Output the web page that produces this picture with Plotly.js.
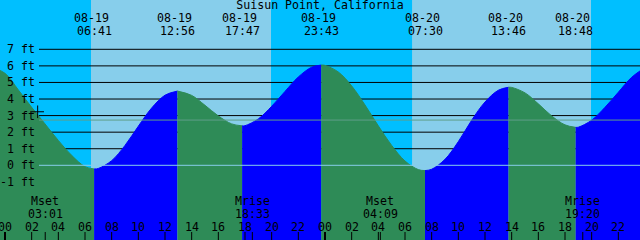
<!DOCTYPE html>
<html>
<head>
<meta charset="utf-8">
<script src="https://cdn.plot.ly/plotly-3.0.1.min.js"></script>
<style>html,body{margin:0;padding:0;background:#00BFFF;}#chart{width:640px;height:240px;}</style>
</head>
<body>
<div id="chart"></div>
<script>
// ---- data (hours from 08-19 00:00, heights in feet) ----
const tideHours = [-1.3,0,1,2,3,4,5,6,6.683,7,8,9,10,11,12,12.933,14,15,16,17,17.783,18,19,20,21,22,23,23.717,24,25,26,27,28,29,30,31,31.5,32,33,34,35,36,37,37.767,38,39,40,41,42,42.8,43,44,45,46,47,48,48.6];
const tideFeet  = [6.0,5.55,4.55,3.5,2.5,1.5,0.6,-0.08,-0.22,-0.19,0.28,1.2,2.36,3.46,4.23,4.48,4.22,3.62,2.98,2.5,2.38,2.39,2.8,3.56,4.46,5.33,5.92,6.05,6.03,5.63,4.79,3.64,2.38,1.2,0.26,-0.26,-0.32,-0.24,0.36,1.43,2.72,3.82,4.53,4.71,4.70,4.37,3.71,2.98,2.44,2.29,2.30,2.72,3.5,4.41,5.31,5.86,5.95];

const extremeHours = [-1.3,6.683,12.933,17.783,23.717,31.5,37.767,42.8,48.6];
const extremeKinds = ['high','low','high','low','high','low','high','low','high'];
const extremeDates = ['08-18','08-19','08-19','08-19','08-19','08-20','08-20','08-20','08-21'];
const extremeTimes = ['22:42','06:41','12:56','17:47','23:43','07:30','13:46','18:48','00:36'];

const sunriseHours = [6.45, 30.53];
const sunsetHours  = [19.95, 43.95];

const moonHours = [3.017, 18.55, 28.15, 43.333];
const moonKinds = ['Mset','Mrise','Mset','Mrise'];
const moonTimes = ['03:01','18:33','04:09','19:20'];

const tickHours  = [0,2,4,6,8,10,12,14,16,18,20,22,24,26,28,30,32,34,36,38,40,42,44,46,48];
const tickLabels = ['00','02','04','06','08','10','12','14','16','18','20','22','00','02','04','06','08','10','12','14','16','18','20','22','00'];
const midnightHours = [0,24,48];

const ftValues = [-1,0,1,2,3,4,5,6,7];
const ftLabels = ['-1 ft','0 ft','1 ft','2 ft','3 ft','4 ft','5 ft','6 ft','7 ft'];
const gridFeet = [1,2,3,4,5,6,7];
const meanLevel = 2.73;
const nowHour = [2.45];
const nowFeet = [3.23];

const title = 'Suisun Point, California';

// ---- styles ----
const W = 640, H = 240;
const X_RANGE = [-0.375, 47.625];
const Y_RANGE = [-4.508, 9.976];
const NIGHT = '#00BFFF', DAY = '#87CEEB', RISE = '#0000FF', FALL = '#2E8B57';
const FONT = {family: 'DejaVu Sans Mono, monospace', size: 11.6, color: '#000000'};
const py = p => 1 - p / H;

const traces = [];
for (let i = 0; i < extremeHours.length - 1; i++) {
  const a = extremeHours[i], b = extremeHours[i + 1];
  const xs = [], ys = [];
  tideHours.forEach((h, k) => { if (h >= a - 1e-6 && h <= b + 1e-6) { xs.push(h); ys.push(tideFeet[k]); } });
  const col = extremeKinds[i] === 'high' ? FALL : RISE;
  traces.push({x: [a, b], y: [Y_RANGE[0], Y_RANGE[0]], mode: 'lines', line: {width: 0}, hoverinfo: 'skip'});
  traces.push({x: xs, y: ys, mode: 'lines', line: {shape: 'spline', smoothing: 1, color: col, width: 1},
               fill: 'tonexty', fillcolor: col, hoverinfo: 'skip'});
}
traces.push({x: nowHour, y: nowFeet, mode: 'markers', marker: {symbol: 'cross-thin', size: 9, line: {color: '#000', width: 1}}, hoverinfo: 'skip'});

const shapes = [];
sunriseHours.forEach((s, i) => {
  shapes.push({type: 'rect', xref: 'x', yref: 'paper', x0: s, x1: sunsetHours[i], y0: 0, y1: 1, fillcolor: DAY, line: {width: 0}, layer: 'below'});
});
gridFeet.forEach(f => {
  shapes.push({type: 'line', xref: 'paper', yref: 'y', x0: 39 / W, x1: 1, y0: f, y1: f, line: {color: '#000', width: 1}, layer: 'below'});
});
shapes.push({type: 'line', xref: 'paper', yref: 'y', x0: 39 / W, x1: 1, y0: 0, y1: 0, line: {color: '#87CEEB', width: 1}, layer: 'above'});
shapes.push({type: 'line', xref: 'paper', yref: 'y', x0: 39 / W, x1: 1, y0: meanLevel, y1: meanLevel, line: {color: '#5E9E88', width: 1}, layer: 'above'});
tickHours.forEach(h => {
  const thick = midnightHours.includes(h);
  shapes.push({type: 'line', xref: 'x', yref: 'paper', x0: h, x1: h, y0: 0, y1: 8 / H, line: {color: '#000', width: thick ? 2 : 1}, layer: 'above'});
});
moonHours.forEach(h => {
  shapes.push({type: 'line', xref: 'x', yref: 'paper', x0: h, x1: h, y0: 0, y1: 8 / H, line: {color: '#000', width: 1}, layer: 'above'});
});

const ann = [];
const txt = (x, y, text, xshift) => ({x, xref: 'x', y: py(y), yref: 'paper', text, showarrow: false, xanchor: 'center', yanchor: 'middle', valign: 'middle', height: 11, xshift: xshift || 0, font: FONT, borderpad: 0});
extremeHours.forEach((h, i) => {
  ann.push(txt(h, 17.5, extremeDates[i], -3));
  ann.push(txt(h, 30, extremeTimes[i], 0));
});
moonHours.forEach((h, i) => {
  ann.push(txt(h, 200.9, moonKinds[i]));
  ann.push(txt(h, 213.4, moonTimes[i]));
});
tickHours.forEach((h, i) => ann.push(txt(h, 226, tickLabels[i])));
ftValues.forEach((f, i) => ann.push({x: 36 / W, xref: 'paper', y: f, yref: 'y', text: ftLabels[i], showarrow: false, xanchor: 'right', yanchor: 'middle', height: 12, font: FONT, borderpad: 0}));

const layout = {
  width: W, height: H,
  margin: {l: 0, r: 0, t: 0, b: 0, pad: 0},
  paper_bgcolor: NIGHT, plot_bgcolor: NIGHT,
  showlegend: false,
  title: {text: title, x: 0.5, xanchor: 'center', y: py(4.8), yanchor: 'middle', yref: 'container', font: FONT, pad: {t: 0, b: 0, l: 0, r: 0}},
  xaxis: {range: X_RANGE, visible: false, fixedrange: true},
  yaxis: {range: Y_RANGE, visible: false, fixedrange: true},
  shapes: shapes,
  annotations: ann
};
Plotly.newPlot('chart', traces, layout, {staticPlot: true, displayModeBar: false});
</script>
</body>
</html>
